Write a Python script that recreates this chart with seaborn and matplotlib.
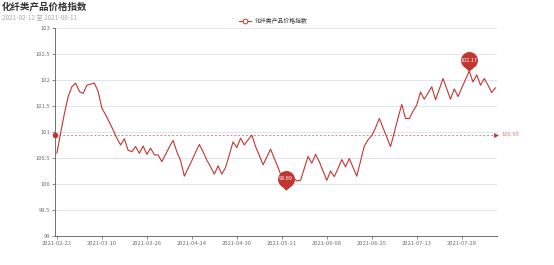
import numpy as np
import pandas as pd
import matplotlib
matplotlib.use("Agg")
import matplotlib.pyplot as plt
import seaborn as sns
from matplotlib.path import Path
from matplotlib.lines import Line2D

# ---------------- data ----------------
title = "化纤类产品价格指数"
subtitle = "2021-02-12 至 2021-08-11"
series_name = "化纤类产品价格指数"
start_date = "2021-02-22"
end_date = "2021-08-11"
holidays = ["2021-04-05", "2021-05-03", "2021-05-04", "2021-05-05", "2021-06-14"]

values = [
    100.59, 100.98, 101.35, 101.68, 101.87, 101.94, 101.78, 101.74, 101.90, 101.92,
    101.94, 101.78, 101.46, 101.33, 101.19, 101.04, 100.88, 100.75, 100.87, 100.65,
    100.62, 100.72, 100.59, 100.73, 100.57, 100.69, 100.56, 100.56, 100.43, 100.57,
    100.71, 100.84, 100.62, 100.45, 100.15, 100.30, 100.45, 100.61, 100.76, 100.62,
    100.46, 100.33, 100.19, 100.35, 100.19, 100.32, 100.56, 100.81, 100.70, 100.88,
    100.75, 100.85, 100.94, 100.72, 100.55, 100.37, 100.52, 100.67, 100.49, 100.32,
    100.12, 99.89, 100.08, 100.12, 100.06, 100.07, 100.30, 100.53, 100.40, 100.57,
    100.43, 100.25, 100.07, 100.25, 100.14, 100.30, 100.47, 100.33, 100.49, 100.32,
    100.15, 100.44, 100.73, 100.85, 100.93, 101.08, 101.26, 101.08, 100.90, 100.72,
    100.99, 101.27, 101.53, 101.26, 101.26, 101.40, 101.52, 101.77, 101.63, 101.75,
    101.87, 101.62, 101.82, 102.03, 101.83, 101.63, 101.83, 101.68, 101.85, 102.01,
    102.17, 101.96, 102.10, 101.90, 102.03, 101.90, 101.76, 101.85,
]
avg_value = 100.95
avg_label = "100.95"
max_value = 102.17
max_label = "102.17"
min_value = 99.89
min_label = "99.89"
y_ticks = [99, 99.5, 100, 100.5, 101, 101.5, 102, 102.5, 103]
y_tick_labels = ["99", "99.5", "100", "100.5", "101", "101.5", "102", "102.5", "103"]
x_label_every = 12

# ---------------- build frame ----------------
dates = [d for d in pd.bdate_range(start_date, end_date) if d.strftime("%Y-%m-%d") not in holidays]
date_labels = [d.strftime("%Y-%m-%d") for d in dates]
df = pd.DataFrame({"idx": np.arange(len(values)), "date": date_labels[:len(values)], "value": values})

RED = "#c23531"
AXIS = "#6e7079"
GRID = "#e0e6f1"

sns.set_theme(style="white")
plt.rcParams["font.family"] = ["Noto Sans CJK SC", "DejaVu Sans"]

fig = plt.figure(figsize=(5.54, 2.65), dpi=100)
ax = fig.add_axes([55 / 554, 29 / 265, 442 / 554, 208 / 265])

sns.lineplot(data=df, x="idx", y="value", ax=ax, color=RED, linewidth=0.8, legend=False, zorder=3)

x_left, x_right = -0.5, 117.4
ax.set_xlim(x_left, x_right)
ax.set_ylim(99, 103)
ax.set_yticks(y_ticks)
ax.set_yticklabels(y_tick_labels)
tick_pos = list(range(0, len(values), x_label_every))
ax.set_xticks(tick_pos)
ax.set_xticklabels([df["date"][i] for i in tick_pos])
ax.set_xlabel("")
ax.set_ylabel("")

ax.grid(axis="y", color=GRID, linewidth=0.7)
ax.grid(axis="x", visible=False)
for s in ["top", "right"]:
    ax.spines[s].set_visible(False)
for s in ["left", "bottom"]:
    ax.spines[s].set_color(AXIS)
    ax.spines[s].set_linewidth(0.7)
ax.tick_params(axis="both", colors=AXIS, labelsize=4.2, length=2.2, width=0.6, pad=1.5,
               labelcolor=AXIS, direction="out")
ax.tick_params(axis="x", bottom=True)
ax.tick_params(axis="y", left=True)

# ---------------- average mark line ----------------
ax.plot([x_left, x_right - 0.3], [avg_value, avg_value], color=RED, alpha=0.6,
        linewidth=0.7, linestyle=(0, (2, 2)), zorder=2, clip_on=False)
ax.plot([x_left], [avg_value], marker="o", color=RED, ms=3, clip_on=False, zorder=4)
ax.plot([x_right - 0.3], [avg_value], marker=">", color=RED, ms=3.5, clip_on=False, zorder=4,
        markeredgewidth=0)
ax.annotate(avg_label, xy=(x_right, avg_value), xytext=(3, 0), textcoords="offset points",
            va="center", ha="left", fontsize=4.2, color="#d57c78")

# ---------------- pin marks ----------------
r, d = 1.0, 1.3
phi = np.arccos(r / d)
ts = np.linspace(-np.pi / 2 + phi, 3 * np.pi / 2 - phi, 60)
verts = [(0.0, 0.0)] + [(r * np.cos(t), d + r * np.sin(t)) for t in ts] + [(0.0, 0.0)]
codes = [Path.MOVETO] + [Path.LINETO] * (len(verts) - 2) + [Path.CLOSEPOLY]
pin = Path(verts, codes)
pin_ms = 28
center_off = d / (d + r) * 0.5 * pin_ms

for val, lab in [(max_value, max_label), (min_value, min_label)]:
    i = int(np.argmin(np.abs(np.array(values) - val)))
    ax.plot([i], [val], marker=pin, ms=pin_ms, color=RED, markeredgewidth=0, zorder=5, clip_on=False)
    ax.annotate(lab, xy=(i, val), xytext=(0, center_off), textcoords="offset points",
                ha="center", va="center", fontsize=4.0, color="white", zorder=6)

# ---------------- titles & legend ----------------
fig.text(2 / 554, 1 - 6.5 / 265, title, fontsize=6.8, fontweight="bold", color="#333333",
         va="center", ha="left")
fig.text(2 / 554, 1 - 17 / 265, subtitle, fontsize=4.6, color="#aaaaaa", va="center", ha="left")
ly = 1 - 21 / 265
fig.add_artist(Line2D([239 / 554, 251 / 554], [ly, ly], color=RED, linewidth=0.8))
fig.add_artist(Line2D([245 / 554], [ly], marker="o", ms=3.4, color=RED,
                      markerfacecolor="white", markeredgewidth=0.7))
fig.text(255 / 554, ly, series_name, fontsize=4.2, color="#333333", va="center", ha="left")

fig.savefig("out.png", dpi=100)
